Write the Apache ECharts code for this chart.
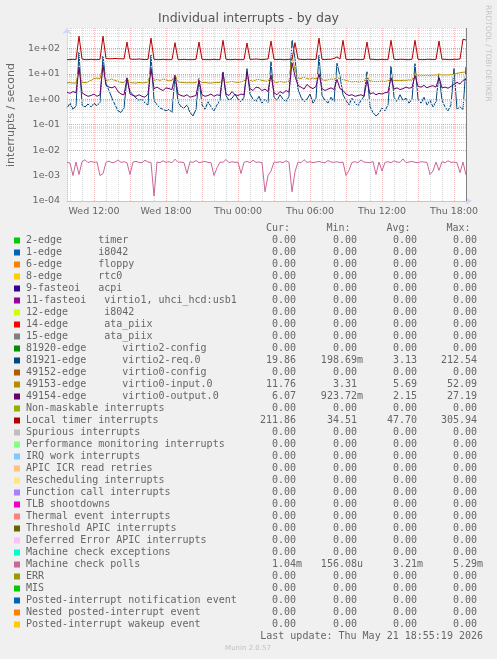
<!DOCTYPE html>
<html><head><meta charset="utf-8">
<script src="https://cdn.jsdelivr.net/npm/echarts@6/dist/echarts.min.js"></script>
<style>html,body{margin:0;padding:0;background:#f0f0f0;}#c{width:497px;height:659px;}</style>
</head><body><div id="c"></div>
<script>
// ---------- DATA ----------
const dayNames = ['Wed', 'Thu'];
const timeCategories = [];
for (let i = 0; i < 134; i++) {
  const m = 9 * 60 + 45 + 15 * i;
  const d = Math.floor(m / 1440), mm = m % 1440;
  timeCategories.push(dayNames[d] + ' ' + String(Math.floor(mm / 60)).padStart(2, '0') + ':' + String(mm % 60).padStart(2, '0'));
}
const xTickLabels = ['Wed 12:00', 'Wed 18:00', 'Thu 00:00', 'Thu 06:00', 'Thu 12:00', 'Thu 18:00'];
const yTickValues = [1e-4, 1e-3, 1e-2, 1e-1, 1, 10, 100];

const localTimer = [36,36,37,36,
 300,38,36,36,37,36,36,37,
 300,40,39,39,40,39,39,38,
 176,38,37,37,38,37,36,37,
 252,37,36,36,37,36,36,36,
 167,36,36,37,36,36,36,37,
 176,37,36,36,36,37,36,36,
 206,37,36,36,37,36,36,36,
 162,37,37,38,37,36,37,38,
 193,37,36,37,36,36,37,37,
 167,38,37,36,37,37,36,37,
 252,37,36,37,37,40,46,38,
 206,37,36,36,37,36,36,37,
 176,37,37,36,36,37,36,36,
 206,37,36,37,37,36,36,37,
 206,37,36,36,37,37,36,37,
 193,37,37,36,36,37,37,38,
 230,212];

const virtio2Req = [0.45,0.7,0.4,0.55,
 70,0.6,0.5,0.65,0.5,0.7,0.55,0.75,
 50,4,2.2,1.1,0.6,0.35,0.3,0.45,
 7,2.0,1.5,1.1,0.9,1.0,0.7,0.6,
 55,0.9,0.6,0.45,0.4,0.35,0.4,0.3,
 8.7,0.8,0.5,0.45,0.6,0.3,0.22,0.4,
 6.5,0.6,0.4,0.8,0.5,0.35,0.6,0.9,
 11.8,1.4,0.9,1.1,1.6,1.0,0.8,1.2,
 16,1.6,1.0,0.8,1.3,0.7,1.0,0.75,
 30,1.2,0.9,1.5,1.0,0.8,1.3,212,
 40,2.5,1.2,0.8,1.0,1.6,0.7,1.1,
 53,1.4,0.9,0.7,1.2,0.8,26,8,
 1.5,0.9,0.6,1.1,0.7,0.55,0.9,1.3,
 12,0.5,0.3,0.22,0.28,0.45,0.35,0.6,
 20,1.2,0.8,1.5,0.9,1.1,0.7,1.0,
 25,1.0,0.7,1.2,0.6,0.9,0.5,0.8,
 10,0.9,0.5,0.35,0.6,16,0.4,0.5,
 0.4,19.86];

const virtio0Input = [4.4,4.5,4.3,4.4,
 14,4.6,4.5,4.8,5.5,6.5,6.8,6.5,
 20,5.5,5.8,6.2,5.5,5.0,4.6,4.5,
 6.5,4.5,4.4,4.3,4.6,4.4,4.5,4.8,
 12,5.5,6.0,5.5,6.2,5.8,5.2,5.5,
 9,4.8,4.6,4.5,4.4,4.5,4.4,4.6,
 5.5,4.5,4.6,4.4,4.3,4.5,4.6,4.5,
 6,4.6,4.8,5.0,4.7,4.6,4.8,5.2,
 7,5.5,5.0,5.8,6.0,5.5,5.2,5.0,
 8,4.8,4.6,5.0,4.7,4.8,5.0,52,
 14,7.0,6.5,7.5,6.5,6.0,7.0,6.2,
 9,6.0,5.5,5.8,6.2,6.0,7.5,6.0,
 6,5.5,5.0,4.8,5.0,4.8,4.9,5.0,
 8,5.2,5.0,4.9,5.0,5.1,5.0,5.2,
 7,5.4,5.5,5.3,5.6,5.5,5.8,5.6,
 10,8.5,8.8,8.6,8.7,8.5,8.8,8.9,
 9.5,8.8,8.9,9.0,9.2,9.5,10.5,11,
 11.5,11.76];

const virtio0Output = [1.9,1.7,2.0,1.8,
 18,1.8,1.5,1.3,1.4,1.6,1.3,1.5,
 22,3.5,3.0,2.8,3.2,2.0,1.6,1.5,
 6.6,1.6,1.4,1.3,1.5,1.3,1.2,1.6,
 16,2.6,3.0,2.5,2.2,2.8,2.6,2.4,
 8.7,1.6,1.4,1.3,1.5,1.2,1.3,1.4,
 5.5,1.5,1.3,1.4,1.6,1.3,1.5,1.4,
 11,1.6,1.4,2.0,1.5,1.4,1.6,1.5,
 12,2.6,2.2,3.0,2.8,2.2,2.5,2.0,
 9,1.8,1.5,2.0,1.7,2.2,1.9,27,
 8,3.5,3.0,2.5,3.8,3.0,2.6,3.2,
 10,2.6,2.2,2.5,2.8,2.4,6,2.6,
 2.2,1.6,1.4,1.5,1.3,1.4,1.5,1.3,
 5.5,1.6,1.8,1.5,1.7,1.6,1.8,1.9,
 7,2.5,2.8,2.4,2.6,3.0,2.7,2.9,
 8.7,3.2,3.0,3.5,2.8,3.2,3.4,3.0,
 7,2.8,3.0,2.7,3.2,3.8,4.6,4.0,
 5.5,6.07];

const machineCheckPolls = [
 0.0033,0.0031,0.0010,0.0034,0.0011,0.0035,0.0042,0.0032,0.0036,0.0033,
 0.0034,0.0010,0.0012,0.0033,0.0037,0.0032,0.0034,0.0041,0.0033,0.0035,
 0.0032,0.0011,0.0034,0.0036,0.0033,0.0032,0.0040,0.0034,0.0033,0.000156,
 0.0034,0.0032,0.0038,0.0033,0.0035,0.0032,0.0044,0.0033,0.0034,0.0032,
 0.0012,0.0035,0.0033,0.0039,0.0032,0.0034,0.0036,0.0033,0.0032,0.0010,
 0.0020,0.0034,0.0033,0.0043,0.0032,0.0035,0.0033,0.0034,0.0012,0.0033,
 0.0036,0.0032,0.0040,0.0033,0.0034,0.0032,0.00023,0.0010,0.0015,0.0034,
 0.0033,0.0035,0.0032,0.0038,0.0033,0.00023,0.0014,0.0034,0.0032,0.0042,
 0.0033,0.0035,0.0032,0.0034,0.0036,0.0033,0.0032,0.0039,0.0034,0.0033,
 0.0035,0.0032,0.0034,0.0010,0.0016,0.0033,0.0035,0.0032,0.0041,0.0034,
 0.0033,0.0032,0.0036,0.0011,0.0034,0.0015,0.0033,0.0035,0.0032,0.0038,
 0.0034,0.0033,0.0045,0.0032,0.0034,0.0036,0.0033,0.0032,0.0035,0.0034,
 0.0033,0.0011,0.0015,0.0034,0.0016,0.0035,0.0032,0.0038,0.0033,0.0034,
 0.0032,0.0013,0.0034,0.00104];

// legend table
const legendNames = [
 '2-edge      timer','1-edge      i8042','6-edge      floppy','8-edge      rtc0',
 '9-fasteoi   acpi','11-fasteoi   virtio1, uhci_hcd:usb1','12-edge      i8042',
 '14-edge      ata_piix','15-edge      ata_piix','81920-edge      virtio2-config',
 '81921-edge      virtio2-req.0','49152-edge      virtio0-config',
 '49153-edge      virtio0-input.0','49154-edge      virtio0-output.0',
 'Non-maskable interrupts','Local timer interrupts','Spurious interrupts',
 'Performance monitoring interrupts','IRQ work interrupts','APIC ICR read retries',
 'Rescheduling interrupts','Function call interrupts','TLB shootdowns',
 'Thermal event interrupts','Threshold APIC interrupts','Deferred Error APIC interrupts',
 'Machine check exceptions','Machine check polls','ERR','MIS',
 'Posted-interrupt notification event','Nested posted-interrupt event','Posted-interrupt wakeup event'];
const legendColors = ['#00CC00','#0066B3','#FF8000','#FFCC00','#330099','#990099','#CCFF00','#FF0000','#808080',
 '#008F00','#00487D','#B35A00','#B38F00','#6B006B','#8FB300','#B30000','#BEBEBE','#80FF80','#80C9FF','#FFC080',
 '#FFE680','#AA80FF','#EE00CC','#FF8080','#666600','#FFBFFF','#00FFCC','#CC6699','#999900','#00CC00','#0066B3',
 '#FF8000','#FFCC00'];
const Z = '0.00';
const curCol = [Z,Z,Z,Z,Z,Z,Z,Z,Z,Z,'19.86',Z,'11.76','6.07',Z,'211.86',Z,Z,Z,Z,Z,Z,Z,Z,Z,Z,Z,'1.04m',Z,Z,Z,Z,Z];
const minCol = [Z,Z,Z,Z,Z,Z,Z,Z,Z,Z,'198.69m',Z,'3.31','923.72m',Z,'34.51',Z,Z,Z,Z,Z,Z,Z,Z,Z,Z,Z,'156.08u',Z,Z,Z,Z,Z];
const avgCol = [Z,Z,Z,Z,Z,Z,Z,Z,Z,Z,'3.13',Z,'5.69','2.15',Z,'47.70',Z,Z,Z,Z,Z,Z,Z,Z,Z,Z,Z,'3.21m',Z,Z,Z,Z,Z];
const maxCol = [Z,Z,Z,Z,Z,Z,Z,Z,Z,Z,'212.54',Z,'52.09','27.19',Z,'305.94',Z,Z,Z,Z,Z,Z,Z,Z,Z,Z,Z,'5.29m',Z,Z,Z,Z,Z];
const columnHeads = ['Cur:', 'Min:', 'Avg:', 'Max:'];

// ---------- CHART ----------
const chart = echarts.init(document.getElementById('c'), null, { renderer: 'canvas' });
const FONT = 'DejaVu Sans';
const MONO = 'DejaVu Sans Mono';
const TXT = '#666666';
const MAJOR = '#f2bcbc';
const MINOR = '#dadada';

function expFmt(v) {
  const l = Math.log10(v), e = Math.round(l);
  if (Math.abs(l - e) > 1e-6) return '';
  return '1e' + (e < 0 ? '-' : '+') + String(Math.abs(e)).padStart(2, '0');
}
function hourOf(s) { return parseInt(s.slice(4, 6), 10); }
function minOf(s) { return parseInt(s.slice(7, 9), 10); }

// grid lines (log minor + decades)
const gridMarks = [];
for (let k = 0; k < yTickValues.length; k++) {
  const dec = yTickValues[k];
  for (let m = 2; m <= 9; m++) {
    const v = dec * m;
    if (v < 630) gridMarks.push({ yAxis: v, lineStyle: { color: MINOR, type: [1, 1], width: 1 } });
  }
}
yTickValues.forEach(v => gridMarks.push({ yAxis: v, lineStyle: { color: '#eaa0a0', type: [1, 1], width: 1 } }));
gridMarks.push({ xAxis: timeCategories.length - 1, lineStyle: { color: '#808080', type: 'solid', width: 1 } });

function lineSeries(name, data, color, z) {
  return { name, type: 'line', data, xAxisIndex: 0, yAxisIndex: 0, showSymbol: false, symbol: 'none',
    lineStyle: { width: 1, color }, itemStyle: { color }, z, animation: false, silent: true };
}

const graphics = [];
graphics.push({ type: 'text', x: 248.5, y: 19, style: { text: 'Individual interrupts - by day', font: '12.5px "' + FONT + '"', fill: '#555', textAlign: 'center', textVerticalAlign: 'middle' } });
graphics.push({ type: 'text', x: 11, y: 115, rotation: Math.PI / 2, style: { text: 'interrupts / second', font: '11px "' + FONT + '"', fill: TXT, textAlign: 'center', textVerticalAlign: 'middle' } });
graphics.push({ type: 'text', x: 487.5, y: 5, rotation: -Math.PI / 2, style: { text: 'RRDTOOL / TOBI OETIKER', font: '7.5px "' + FONT + '"', fill: '#c4c4c4', textAlign: 'left', textVerticalAlign: 'middle' } });
// axis arrow at right end of x axis
graphics.push({ type: 'polygon', shape: { points: [[466, 197.5], [472, 201], [466, 204.5]] }, style: { fill: '#cfd6f8' } });

const colRight = [296, 357, 417, 477];
const headRight = [290, 350.5, 410.5, 470.5];
columnHeads.forEach((h, j) => graphics.push({ type: 'text', x: headRight[j], y: 228, style: { text: h, font: '10px "' + MONO + '"', fill: TXT, textAlign: 'right', textVerticalAlign: 'middle' } }));
const cols = [curCol, minCol, avgCol, maxCol];
legendNames.forEach((n, k) => {
  const y = 240.5 + 12 * k;
  graphics.push({ type: 'rect', shape: { x: 14, y: y - 3, width: 6, height: 6 }, style: { fill: legendColors[k] } });
  graphics.push({ type: 'text', x: 26, y, style: { text: n, font: '10px "' + MONO + '"', fill: TXT, textAlign: 'left', textVerticalAlign: 'middle' } });
  cols.forEach((c, j) => {
    const s = c[k];
    const suffix = /[a-z]$/.test(s);
    graphics.push({ type: 'text', x: colRight[j] + (suffix ? 6 : 0), y, style: { text: s, font: '10px "' + MONO + '"', fill: TXT, textAlign: 'right', textVerticalAlign: 'middle' } });
  });
});
graphics.push({ type: 'text', x: 483, y: 636, style: { text: 'Last update: Thu May 21 18:55:19 2026', font: '10px "' + MONO + '"', fill: TXT, textAlign: 'right', textVerticalAlign: 'middle' } });
graphics.push({ type: 'text', x: 248, y: 648, style: { text: 'Munin 2.0.57', font: '7px "' + FONT + '"', fill: '#c0c0c0', textAlign: 'center', textVerticalAlign: 'middle' } });

const option = {
  backgroundColor: '#f0f0f0',
  animation: false,
  grid: { left: 67, right: 31, top: 28, bottom: 458, show: true, backgroundColor: '#ffffff', borderWidth: 0 },
  xAxis: [
    { type: 'category', data: timeCategories, boundaryGap: false, position: 'bottom',
      axisLine: { show: true, onZero: false, lineStyle: { color: '#d6c79c', width: 1 } },
      axisTick: { show: false },
      axisLabel: { show: true, interval: (i, v) => xTickLabels.indexOf(v) >= 0, color: TXT, fontFamily: FONT, fontSize: 9.5, margin: 6 },
      splitLine: { show: true, interval: (i, v) => minOf(v) === 0 && hourOf(v) % 3 === 0, lineStyle: { color: MAJOR, type: [1, 1], width: 1 } },
      z: 2 },
    { type: 'category', data: timeCategories, boundaryGap: false, position: 'bottom', gridIndex: 0,
      axisLine: { show: false }, axisTick: { show: false }, axisLabel: { show: false },
      splitLine: { show: true, interval: (i, v) => minOf(v) === 0 && hourOf(v) % 3 !== 0, lineStyle: { color: MINOR, type: [1, 1], width: 1 } },
      z: 1 }
  ],
  yAxis: {
    type: 'log', logBase: 10, min: 1e-4, max: 630,
    axisLine: { show: true, lineStyle: { color: '#cfd6f8', width: 1 }, symbol: ['none', 'arrow'], symbolSize: [7, 6] },
    axisTick: { show: false },
    axisLabel: { formatter: expFmt, color: TXT, fontFamily: FONT, fontSize: 9.5, margin: 7 },
    splitLine: { show: false }, minorTick: { show: false }, minorSplitLine: { show: false }
  },
  series: [
    { name: 'gridlines', type: 'line', data: [], z: 1, silent: true, animation: false,
      markLine: { silent: true, symbol: 'none', label: { show: false }, animation: false, data: gridMarks } },
    lineSeries('81921-edge virtio2-req.0', virtio2Req, '#00487D', 3),
    lineSeries('49153-edge virtio0-input.0', virtio0Input, '#B38F00', 4),
    lineSeries('49154-edge virtio0-output.0', virtio0Output, '#6B006B', 5),
    lineSeries('Local timer interrupts', localTimer, '#B30000', 6),
    lineSeries('Machine check polls', machineCheckPolls, '#CC6699', 7)
  ],
  graphic: graphics
};
chart.setOption(option);
</script>
</body></html>
